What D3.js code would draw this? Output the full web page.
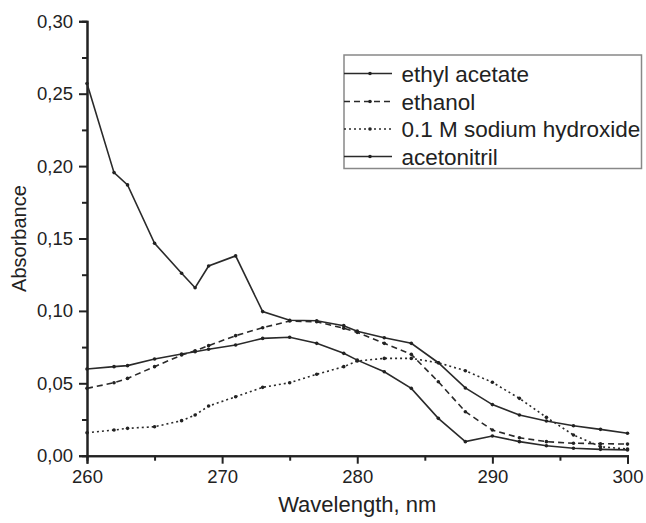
<!DOCTYPE html>
<html><head><meta charset="utf-8">
<script src="https://cdn.jsdelivr.net/npm/d3@7"></script>
<style>body{margin:0;background:#fff}svg{display:block}text{font-family:"Liberation Sans",Arial,sans-serif;fill:#222}</style>
</head><body><svg id="c" width="646" height="523"></svg>
<script>
const wavelengths = [260,262,263,265,267,268,269,271,273,275,277,279,280,282,284,286,288,290,292,294,296,298,300];
const ethylAcetate = [0.257,0.1955,0.187,0.1467,0.126,0.116,0.131,0.138,0.0995,0.0935,0.0932,0.0898,0.086,0.0815,0.0776,0.0642,0.0468,0.0353,0.0281,0.024,0.0207,0.0182,0.0155];
const ethanol = [0.0465,0.0504,0.0534,0.0615,0.0695,0.0725,0.076,0.0829,0.0884,0.093,0.0925,0.088,0.0852,0.0776,0.07,0.0511,0.0304,0.0177,0.0124,0.0097,0.0086,0.0083,0.008];
const sodiumHydroxide = [0.0159,0.0177,0.0189,0.02,0.0242,0.0281,0.0343,0.0407,0.0472,0.0504,0.0562,0.0615,0.0654,0.0672,0.0672,0.0642,0.0587,0.0507,0.0396,0.0265,0.0143,0.0062,0.0046];
const acetonitril = [0.0599,0.0615,0.0622,0.0668,0.0702,0.0718,0.0735,0.0765,0.081,0.0818,0.0776,0.0707,0.066,0.058,0.0465,0.0258,0.0097,0.0136,0.0097,0.0069,0.0051,0.0044,0.004];
const seriesNames = ["ethyl acetate","ethanol","0.1 M sodium hydroxide","acetonitril"];
const xTicks = [260,270,280,290,300];
const yTicks = [0,0.05,0.10,0.15,0.20,0.25,0.30];

const series = [
  {name: seriesNames[0], values: ethylAcetate, dash: null},
  {name: seriesNames[1], values: ethanol, dash: "6,4"},
  {name: seriesNames[2], values: sodiumHydroxide, dash: "2,3"},
  {name: seriesNames[3], values: acetonitril, dash: null}
];

const svg = d3.select("#c");
const L = 87, R = 627.5, T = 21.3, B = 455.7;
const x = d3.scaleLinear().domain([260,300]).range([L,R]);
const y = d3.scaleLinear().domain([0,0.30]).range([B,T]);
const fmt = d => d3.format(".2f")(d).replace(".", ",");

// minor ticks
const gx = svg.append("g").attr("transform",`translate(0,${B})`);
gx.call(d3.axisBottom(x).tickValues(d3.range(265,300,10)).tickSize(5).tickFormat(""));
gx.append("g").call(d3.axisBottom(x).tickValues(xTicks).tickSize(8).tickPadding(6).tickFormat(d3.format("d")));
const gy = svg.append("g").attr("transform",`translate(${L},0)`);
gy.call(d3.axisLeft(y).tickValues(d3.range(0.025,0.30,0.05)).tickSize(5).tickFormat(""));
gy.append("g").call(d3.axisLeft(y).tickValues(yTicks).tickSize(8).tickPadding(6).tickFormat(fmt));
svg.selectAll(".domain").attr("stroke","#222").attr("stroke-width",2);
svg.selectAll(".tick line").attr("stroke","#222").attr("stroke-width",2);
svg.selectAll(".tick text").style("font-size","18.5px").attr("fill","#222");

// axis titles
svg.append("text").attr("x",(L+R)/2).attr("y",512).attr("text-anchor","middle").style("font-size","22px").text("Wavelength, nm");
svg.append("text").attr("transform",`translate(26,${(T+B)/2}) rotate(-90)`).attr("text-anchor","middle").style("font-size","20px").text("Absorbance");

// lines
const line = d3.line().x((d,i)=>x(wavelengths[i])).y(d=>y(d));
series.forEach(s=>{
  svg.append("path").datum(s.values).attr("d",line).attr("fill","none")
    .attr("stroke","#2a2a2a").attr("stroke-width",1.6)
    .attr("stroke-dasharray",s.dash);
  svg.append("g").selectAll("circle").data(s.values).join("circle")
    .attr("cx",(d,i)=>x(wavelengths[i])).attr("cy",d=>y(d)).attr("r",1.8).attr("fill","#222");
});

// legend
const lg = svg.append("g");
lg.append("rect").attr("x",344).attr("y",55).attr("width",297.5).attr("height",113.5)
  .attr("fill","#fff").attr("stroke","#888").attr("stroke-width",1.5);
const rowY = [73.5,101.5,129,156.5];
series.forEach((s,i)=>{
  lg.append("line").attr("x1",344).attr("x2",392).attr("y1",rowY[i]).attr("y2",rowY[i])
    .attr("stroke","#2a2a2a").attr("stroke-width",1.6).attr("stroke-dasharray",s.dash);
  lg.append("circle").attr("cx",370).attr("cy",rowY[i]).attr("r",1.8).attr("fill","#222");
  lg.append("text").attr("x",401.5).attr("y",rowY[i]+8).style("font-size","22.5px").text(s.name);
});
</script></body></html>
